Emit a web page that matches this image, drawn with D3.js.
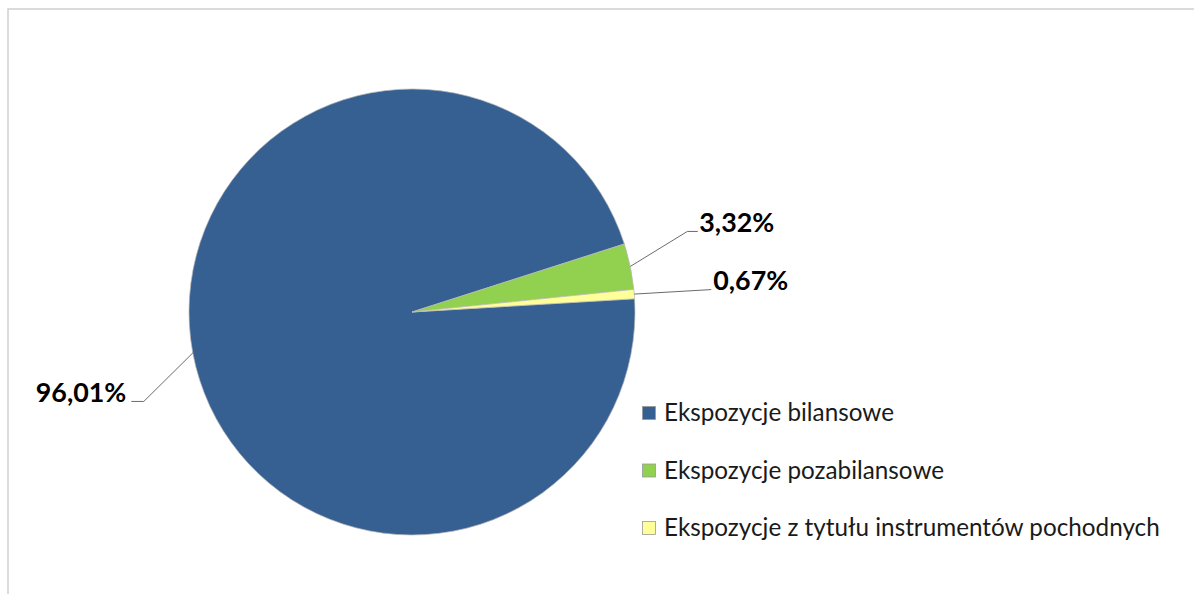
<!DOCTYPE html>
<html><head><meta charset="utf-8">
<script src="https://cdn.jsdelivr.net/npm/d3@7"></script>
<style>html,body{margin:0;padding:0;background:#fff;}svg{display:block;}</style>
</head><body>
<svg id="chart" width="1194" height="594"></svg>
<script>
const categories = ["Ekspozycje bilansowe", "Ekspozycje pozabilansowe", "Ekspozycje z tytułu instrumentów pochodnych"];
const values = [96.01, 3.32, 0.67];
const valueLabels = ["96,01%", "3,32%", "0,67%"];
const colors = ["#376092", "#92d050", "#ffff99"];

const W = 1194, H = 594;
const svg = d3.select("#chart");
const FONT = "Lato, 'Open Sans', sans-serif";

// outer frame
svg.append("rect").attr("x", 8).attr("y", 9).attr("width", W + 10).attr("height", H + 10)
  .attr("fill", "#fff").attr("stroke", "#d0d0d0").attr("stroke-width", 1.5);

const cx = 412, cy = 312, r = 223;
const startDeg = 86.6;
const pie = d3.pie().sort(null).value(d => d)
  .startAngle(startDeg * Math.PI / 180)
  .endAngle((startDeg + 360) * Math.PI / 180);
const arcs = pie(values);
const arc = d3.arc().innerRadius(0).outerRadius(r);

const g = svg.append("g").attr("transform", `translate(${cx},${cy})`);
g.selectAll("path.slice").data(arcs).enter().append("path")
  .attr("class", "slice")
  .attr("d", arc)
  .attr("fill", (d, i) => colors[i])
  .attr("stroke", "#b8b8b8").attr("stroke-width", 0.7);

// leader lines + labels
function edgePoint(d) {
  const a = (d.startAngle + d.endAngle) / 2;
  return [Math.sin(a) * r, -Math.cos(a) * r];
}
const leaders = [
  {elbow: [-49, 48.5], end: [-61.5, 48.5], anchor: "end", tx: -5, ty: 0},
  {elbow: [57, -35], end: [67.5, -35], anchor: "start", tx: 1.5, ty: 0},
  {elbow: null, end: [77, -4.5], anchor: "start", tx: 2, ty: 0}
];
const labG = g.append("g");
arcs.forEach((d, i) => {
  const p = edgePoint(d);
  const L = leaders[i];
  const pts = [p];
  if (L.elbow) pts.push([p[0] + L.elbow[0], p[1] + L.elbow[1]]);
  const e = [p[0] + L.end[0], p[1] + L.end[1]];
  pts.push(e);
  labG.append("path").attr("d", d3.line()(pts))
    .attr("fill", "none").attr("stroke", "#6b6b6b").attr("stroke-width", 1);
  labG.append("text")
    .attr("x", e[0] + L.tx).attr("y", e[1] + L.ty + 0.5)
    .attr("text-anchor", L.anchor)
    .attr("font-family", FONT).attr("font-weight", "bold")
    .attr("font-size", 26).attr("fill", "#000")
    .attr("class", "vlabel")
    .text(valueLabels[i]);
});
const lbl = labG.selectAll("text.vlabel").nodes();
const w1 = lbl[1].getComputedTextLength();
labG.selectAll("text.vlabel").attr("font-size", 26 * 75 / w1);

// legend
const legY0 = 421, legStep = 57.5, legX = 642, sq = 14;
const leg = svg.append("g");
const items = leg.selectAll("g").data(categories).enter().append("g")
  .attr("transform", (d, i) => `translate(${legX},${legY0 + i * legStep})`);
items.append("rect").attr("x", 0.5).attr("y", -14.5).attr("width", sq - 1).attr("height", sq - 1)
  .attr("fill", (d, i) => colors[i]).attr("stroke", "#9a9a9a").attr("stroke-width", 0.8);
const texts = items.append("text").attr("x", 22).attr("y", 0)
  .attr("font-family", FONT).attr("font-size", 20).attr("fill", "#1a1a1a")
  .text(d => d);
const wl = texts.nodes()[2].getComputedTextLength();
texts.attr("font-size", 20 * 496 / wl);
</script>
</body></html>
